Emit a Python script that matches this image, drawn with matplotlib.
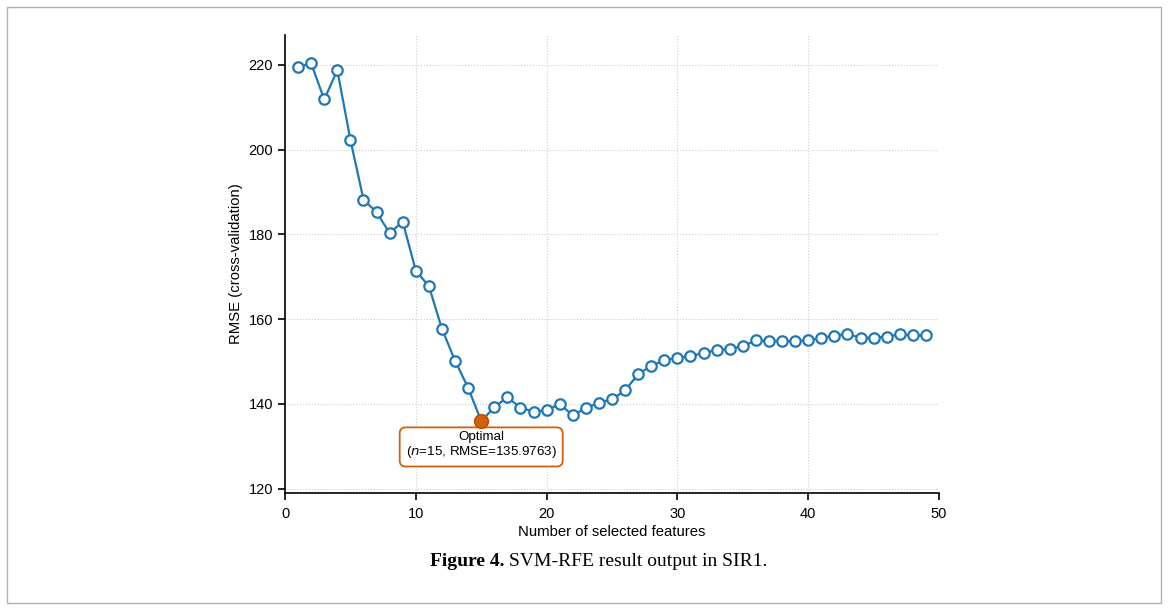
import matplotlib.pyplot as plt
import matplotlib.patches as patches

# RFE results
n_features = list(range(1, 50))
rmse = [219.5, 220.3, 211.8, 218.7, 202.3, 188.2, 185.2, 180.3, 183.0, 171.4,
        167.8, 157.7, 150.2, 143.8, 135.9763, 139.2, 141.6, 139.1, 138.2, 138.5,
        140.0, 137.3, 139.0, 140.3, 141.1, 143.2, 147.0, 149.0, 150.3, 150.9,
        151.3, 152.0, 152.7, 153.0, 153.6, 155.0, 154.8, 154.9, 154.8, 155.0,
        155.6, 156.1, 156.5, 155.6, 155.6, 155.9, 156.4, 156.2, 156.2]
best_n = 15
best_rmse = 135.9763

plt.rcParams['font.family'] = ['Liberation Sans', 'DejaVu Sans']

W, H = 1168, 610
fig = plt.figure(figsize=(W / 100, H / 100), dpi=100)
ax = fig.add_axes([285 / W, 1 - 493 / H, 654 / W, 458 / H])

blue = '#1f77b4'
orange = '#d2600f'

ax.plot(n_features, rmse, color=blue, lw=1.6, marker='o', ms=7.5,
        mfc='white', mec=blue, mew=1.6, zorder=3)
ax.plot(best_n, best_rmse, 'o', color=orange, ms=10, mec='#b84e08', zorder=4)

ax.text(15, 130.1, 'Optimal\n($n$=15, RMSE=135.9763)', ha='center', va='center',
        fontsize=9.6, linespacing=1.1,
        bbox=dict(boxstyle='round,pad=0.45', fc='white', ec=orange, lw=1.3))

ax.set_xlim(0, 50)
ax.set_ylim(119.0, 227.0)
ax.set_xticks([0, 10, 20, 30, 40, 50])
ax.set_yticks([120, 140, 160, 180, 200, 220])
ax.grid(True, ls=':', color='#cccccc', lw=0.8)
ax.set_axisbelow(True)
for s in ['top', 'right']:
    ax.spines[s].set_visible(False)
ax.spines['left'].set_linewidth(1.2)
ax.spines['bottom'].set_linewidth(1.2)
ax.tick_params(labelsize=10.5, length=5, width=1.2, direction='out')
ax.tick_params(axis='x', pad=5)
ax.set_xlabel('Number of selected features', fontsize=10.7, labelpad=3)
ax.set_ylabel('RMSE (cross-validation)', fontsize=10.7, labelpad=4)

# outer frame and caption
fig.patches.append(patches.Rectangle((7 / W, 7 / H), 1154 / W, 596 / H,
                                     transform=fig.transFigure, fill=False,
                                     ec='#b0b0b0', lw=1))
t1 = fig.text(430 / W, 1 - 562 / H, 'Figure 4.', ha='left', va='center',
              family='Liberation Serif', fontweight='bold', fontsize=14)
fig.canvas.draw()
bb = t1.get_window_extent()
fig.text((bb.x1 + 5) / W, 1 - 562 / H, 'SVM-RFE result output in SIR1.', ha='left',
         va='center', family='Liberation Serif', fontsize=14)

fig.savefig('out.png', dpi=100)
